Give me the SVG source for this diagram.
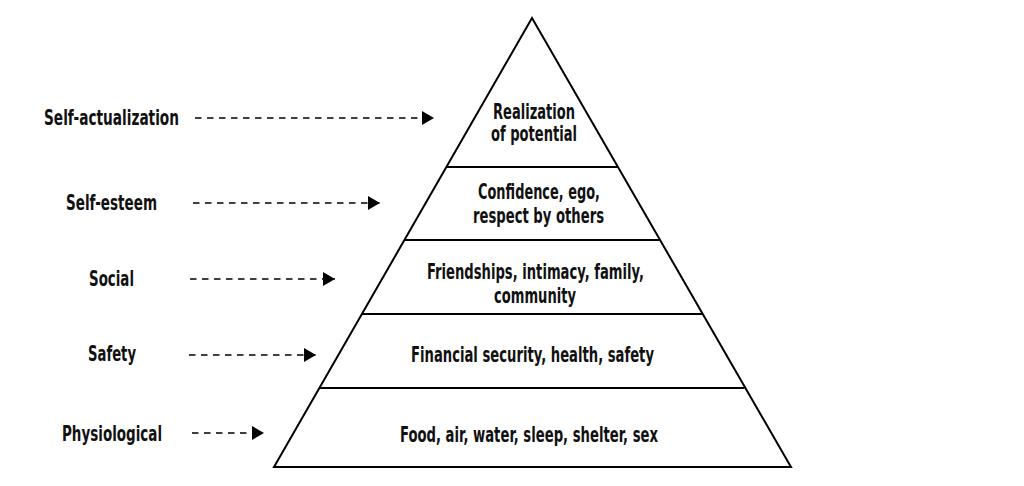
<svg xmlns="http://www.w3.org/2000/svg" width="1024" height="486" viewBox="0 0 1024 486">
  <defs>
    <marker id="ah" markerWidth="12" markerHeight="14" refX="12" refY="7" orient="auto" markerUnits="userSpaceOnUse">
      <path d="M0,0 L12,7 L0,14 Z" fill="#000"/>
    </marker>
  </defs>
  <style>
    text { font-family: "Liberation Sans Narrow", "DejaVu Sans Condensed", "DejaVu Sans", sans-serif; font-stretch: condensed; font-weight: bold; font-size: 20.5px; fill: #111; }
    .tier { fill: none; stroke: #000; stroke-width: 2; }
    .conn { fill: none; stroke: #000; stroke-width: 1.5; stroke-dasharray: 6.5 5.5; }
  </style>
  <rect width="1024" height="486" fill="#fff"/>

  <g id="pyramid">
    <path class="tier" d="M532,18 L274,467 L791,467 Z"/>
    <line class="tier" x1="446.5" y1="167" x2="617.5" y2="167"/>
    <line class="tier" x1="404.5" y1="240" x2="659.5" y2="240"/>
    <line class="tier" x1="362" y1="314" x2="702" y2="314"/>
    <line class="tier" x1="319.5" y1="388" x2="744.5" y2="388"/>
  </g>

  <g id="tier-self-actualization">
    <text x="493" y="119" textLength="82" lengthAdjust="spacingAndGlyphs">Realization</text>
    <text x="491" y="141" textLength="86" lengthAdjust="spacingAndGlyphs">of potential</text>
  </g>
  <g id="tier-self-esteem">
    <text x="478" y="199" textLength="122" lengthAdjust="spacingAndGlyphs">Confidence, ego,</text>
    <text x="473" y="223" textLength="131" lengthAdjust="spacingAndGlyphs">respect by others</text>
  </g>
  <g id="tier-social">
    <text x="427" y="279" textLength="217" lengthAdjust="spacingAndGlyphs">Friendships, intimacy, family,</text>
    <text x="494" y="303" textLength="82" lengthAdjust="spacingAndGlyphs">community</text>
  </g>
  <g id="tier-safety">
    <text x="411" y="361.5" textLength="243" lengthAdjust="spacingAndGlyphs">Financial security, health, safety</text>
  </g>
  <g id="tier-physiological">
    <text x="400" y="441.5" textLength="258" lengthAdjust="spacingAndGlyphs">Food, air, water, sleep, shelter, sex</text>
  </g>

  <g id="label-self-actualization">
    <text x="44" y="124.5" textLength="135" lengthAdjust="spacingAndGlyphs">Self-actualization</text>
  </g>
  <g id="label-self-esteem">
    <text x="66" y="209.5" textLength="91" lengthAdjust="spacingAndGlyphs">Self-esteem</text>
  </g>
  <g id="label-social">
    <text x="89" y="285.5" textLength="45" lengthAdjust="spacingAndGlyphs">Social</text>
  </g>
  <g id="label-safety">
    <text x="88" y="360.5" textLength="48" lengthAdjust="spacingAndGlyphs">Safety</text>
  </g>
  <g id="label-physiological">
    <text x="62" y="440.5" textLength="100" lengthAdjust="spacingAndGlyphs">Physiological</text>
  </g>

  <g id="connectors">
    <line class="conn" x1="195" y1="118" x2="434" y2="118" marker-end="url(#ah)"/>
    <line class="conn" x1="193" y1="203" x2="380" y2="203" marker-end="url(#ah)"/>
    <line class="conn" x1="190" y1="279" x2="335" y2="279" marker-end="url(#ah)"/>
    <line class="conn" x1="189" y1="355" x2="316" y2="355" marker-end="url(#ah)"/>
    <line class="conn" x1="192" y1="433" x2="264" y2="433" marker-end="url(#ah)"/>
  </g>
</svg>
